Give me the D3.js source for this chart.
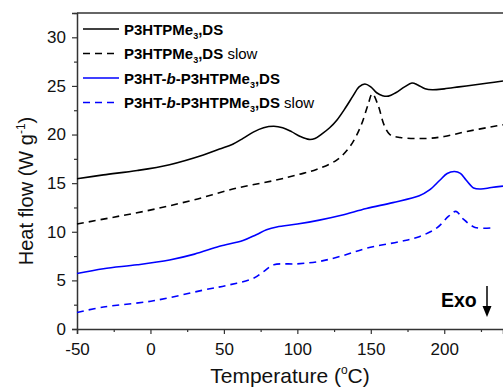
<!DOCTYPE html>
<html><head><meta charset="utf-8">
<script src="https://cdn.jsdelivr.net/npm/d3@7"></script>
<style>body{margin:0;background:#fff}svg{display:block}text{font-family:"Liberation Sans",Arial,sans-serif}</style>
</head><body>
<svg id="c" width="503" height="387"></svg>
<script>
// ---- data ----
const temp1 = [-50,-32,-9,13,36,47,56,63,70,77,84,90,96,102,108,112,117,122,127,133,138,142,146,150,154,158,162,167,173,178,182,187,192,200,210,220,230,240];
const heat1 = [15.45,15.85,16.3,16.9,17.9,18.5,19.0,19.6,20.25,20.7,20.85,20.7,20.3,19.8,19.5,19.6,20.1,20.7,21.5,22.8,24.0,24.9,25.2,24.9,24.3,24.0,23.95,24.3,24.9,25.3,25.1,24.7,24.6,24.7,24.9,25.1,25.3,25.5];
const temp2 = [-50,-25,2,30,59,85,101,113,127,136,143,148,151,155,159,163,170,188,200,215,236,240];
const heat2 = [10.8,11.5,12.3,13.3,14.5,15.3,15.9,16.4,17.4,18.8,20.8,23.0,24.2,23.0,21.0,20.0,19.7,19.6,19.8,20.3,20.9,21.0];
const temp3 = [-50,-32,-9,13,30,47,63,72,79,86,100,115,130,147,165,183,190,197,202,207,211,215,220,225,232,240];
const heat3 = [5.7,6.2,6.6,7.1,7.7,8.5,9.1,9.7,10.2,10.5,10.8,11.2,11.7,12.4,13.0,13.7,14.3,15.3,16.0,16.2,16.0,15.3,14.5,14.4,14.55,14.7];
const temp4 = [-50,-32,2,36,54,70,77,84,100,115,130,147,170,183,195,203,208,213,221,233];
const heat4 = [1.7,2.26,2.9,4.0,4.55,5.2,5.9,6.6,6.7,6.95,7.5,8.3,9.0,9.5,10.4,11.6,12.1,11.3,10.45,10.4];
const xTicks = [-50,0,50,100,150,200];
const yTicks = [0,5,10,15,20,25,30];
const seriesNames = ["P3HTPMe3,DS","P3HTPMe3,DS slow","P3HT-b-P3HTPMe3,DS","P3HT-b-P3HTPMe3,DS slow"];
const seriesColors = ["#000000","#000000","#0000ff","#0000ff"];
const seriesDashed = [false,true,false,true];

// ---- layout ----
const svg = d3.select("#c");
const m = {l:77, t:13, r:0, b:58};
const W = 503, H = 387;
const x = d3.scaleLinear().domain([-50,240]).range([m.l, W - m.r]);
const y = d3.scaleLinear().domain([0,32.5]).range([H - m.b, m.t]);
const axisCol = "#333";

// top border
svg.append("line").attr("x1",m.l).attr("x2",W).attr("y1",m.t).attr("y2",m.t)
  .attr("stroke",axisCol).attr("stroke-width",1.5);

// x axis
const gx = svg.append("g").attr("transform",`translate(0,${H-m.b})`);
gx.call(d3.axisBottom(x).tickValues(d3.range(-50,241,25)).tickSize(5).tickFormat(d => xTicks.includes(d) ? d : ""));
gx.select(".domain").attr("stroke",axisCol).attr("stroke-width",1.5);
gx.selectAll(".tick line").attr("stroke",axisCol).attr("stroke-width",1.2)
  .attr("y2", d => xTicks.includes(d) ? 5 : 3);
gx.selectAll(".tick text").attr("font-size",17).attr("fill","#111").attr("dy",0).attr("y",26);

// y axis
const gy = svg.append("g").attr("transform",`translate(${m.l},0)`);
gy.call(d3.axisLeft(y).tickValues(d3.range(0,32.6,2.5)).tickSize(5).tickFormat(d => yTicks.includes(d) ? d : ""));
gy.select(".domain").attr("stroke",axisCol).attr("stroke-width",1.5);
gy.selectAll(".tick line").attr("stroke",axisCol).attr("stroke-width",1.2)
  .attr("x2", d => yTicks.includes(d) ? -5 : -3);
gy.selectAll(".tick text").attr("font-size",17).attr("fill","#111").attr("x",-11);

// axis titles
const xt = svg.append("text").attr("x",290).attr("y",383).attr("text-anchor","middle").attr("font-size",21).attr("fill","#111");
xt.append("tspan").text("Temperature (");
xt.append("tspan").text("o").attr("font-size",12).attr("dy",-9);
xt.append("tspan").text("C)").attr("dy",9);

const yt = svg.append("text").attr("transform","translate(33,191) rotate(-90)").attr("text-anchor","middle").attr("font-size",20).attr("fill","#111");
yt.append("tspan").text("Heat flow (W g");
yt.append("tspan").text("-1").attr("font-size",12).attr("dy",-8);
yt.append("tspan").text(")").attr("dy",8);

// curves
const temps = [temp1,temp2,temp3,temp4];
const heats = [heat1,heat2,heat3,heat4];
const line = d3.line().x(d => x(d[0])).y(d => y(d[1])).curve(d3.curveCatmullRom.alpha(0.5));
temps.forEach((t,i) => {
  const pts = t.map((v,j) => [v, heats[i][j]]);
  svg.append("path").attr("d", line(pts)).attr("fill","none")
    .attr("stroke", seriesColors[i]).attr("stroke-width",1.6)
    .attr("stroke-dasharray", seriesDashed[i] ? "7,5" : null);
});

// legend
const legY = [29, 53.5, 78, 102.5];
seriesNames.forEach((name,i) => {
  svg.append("line").attr("x1",83).attr("x2",119).attr("y1",legY[i]).attr("y2",legY[i])
    .attr("stroke",seriesColors[i]).attr("stroke-width",1.6)
    .attr("stroke-dasharray", seriesDashed[i] ? "7,5" : null);
  const t = svg.append("text").attr("x",124).attr("y",legY[i]+5.5).attr("font-size",15).attr("fill","#000");
  const slow = name.endsWith(" slow");
  const base = slow ? name.slice(0,-5) : name;
  const block = base.startsWith("P3HT-b-");
  if (block) {
    t.append("tspan").text("P3HT-").attr("font-weight","bold");
    t.append("tspan").text("b").attr("font-weight","bold").attr("font-style","italic");
    t.append("tspan").text("-P3HTPMe").attr("font-weight","bold");
  } else {
    t.append("tspan").text("P3HTPMe").attr("font-weight","bold");
  }
  t.append("tspan").text("3").attr("font-weight","bold").attr("font-size",9).attr("dy",4);
  t.append("tspan").text(",DS").attr("font-weight","bold").attr("dy",-4);
  if (slow) t.append("tspan").text(" slow");
});

// Exo annotation
svg.append("text").attr("x",441).attr("y",307).attr("font-size",19.5).attr("font-weight","bold").attr("fill","#000").text("Exo");
svg.append("line").attr("x1",487).attr("x2",487).attr("y1",286).attr("y2",308)
  .attr("stroke","#000").attr("stroke-width",1.5);
svg.append("path").attr("d","M482.5,306L491.5,306L487,317Z").attr("fill","#000");
</script>
</body></html>
